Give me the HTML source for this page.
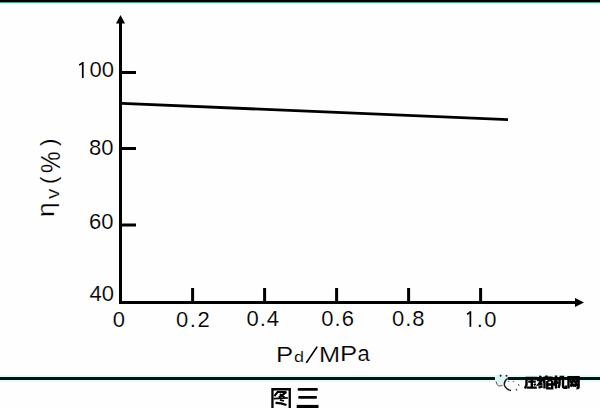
<!DOCTYPE html>
<html><head><meta charset="utf-8">
<style>
html,body{margin:0;padding:0;}
body{width:600px;height:408px;overflow:hidden;background:#fefefe;position:relative;font-family:"Liberation Sans",sans-serif;color:#000;}
.t{position:absolute;white-space:nowrap;line-height:1;-webkit-text-stroke:0.15px #fefefe;}
svg{position:absolute;left:0;top:0;}
</style></head><body>
<svg width="600" height="408" viewBox="0 0 600 408">
  <!-- top border -->
  <rect x="0" y="0" width="600" height="2" fill="#000"/>
  <rect x="0" y="2" width="600" height="1" fill="#5c9c98"/>
  <rect x="0" y="3" width="600" height="1" fill="#b8fff8"/>
  <rect x="0" y="4" width="600" height="1" fill="#e8fffa"/>
  <!-- y axis -->
  <rect x="119" y="22" width="3" height="282" fill="#000"/>
  <polygon points="120.5,15 116,23.5 125,23.5" fill="#000"/>
  <!-- x axis -->
  <rect x="119" y="301" width="458" height="3" fill="#000"/>
  <polygon points="584,302.5 575,298 575,307" fill="#000"/>
  <!-- y ticks -->
  <rect x="122" y="71" width="14" height="3" fill="#000"/>
  <rect x="122" y="147" width="14" height="3" fill="#000"/>
  <rect x="122" y="223.5" width="14" height="3" fill="#000"/>
  <!-- x ticks -->
  <rect x="191.1" y="288" width="3" height="13" fill="#000"/>
  <rect x="263.1" y="288" width="3" height="13" fill="#000"/>
  <rect x="335.1" y="288" width="3" height="13" fill="#000"/>
  <rect x="407.1" y="288" width="3" height="13" fill="#000"/>
  <rect x="479.1" y="288" width="3" height="13" fill="#000"/>
  <!-- data line -->
  <line x1="122" y1="103.4" x2="508" y2="119.6" stroke="#000" stroke-width="2.8"/>
  <!-- bottom rule -->
  <rect x="0" y="375" width="600" height="2" fill="#e4fcfa"/>
  <rect x="0" y="380" width="600" height="2" fill="#e4fcfa"/>
  <rect x="0" y="377" width="495" height="3" fill="#061414"/>
  <rect x="507.8" y="377" width="92.2" height="3" fill="#061414"/>
  <!-- digit 1 glyphs -->
  <rect x="81.9" y="62" width="1.75" height="16" fill="#000"/>
  <polygon points="82.2,62.2 79,64.3 79.2,65.8 82.2,64.6" fill="#000"/>
  <rect x="469.5" y="311.2" width="1.75" height="15.7" fill="#000"/>
  <polygon points="469.8,311.4 466.8,313.5 467,315 469.8,313.8" fill="#000"/>
  <!-- 图三 -->
  <g fill="none" stroke="#000" stroke-linecap="butt">
    <path d="M272.45,409 V389.25 H289.75 V409" stroke-width="2.3"/>
    <path d="M274.4,396.2 L277.6,392 H286.4" stroke-width="2.1"/>
    <path d="M286.2,392.2 L278.8,397.6" stroke-width="2.2"/>
    <path d="M279.8,394.2 L284.5,397.4" stroke-width="2"/>
    <path d="M273.6,398.6 L279,398.4 L287.8,397.9" stroke-width="1.9"/>
    <path d="M280,399.9 L284,401" stroke-width="1.8"/>
    <path d="M275.5,402.8 Q281,402.8 286.5,405" stroke-width="2.2"/>
  </g>
  <rect x="297.6" y="388.1" width="20.3" height="2.7" rx="1.2" fill="#000"/>
  <rect x="298.2" y="396.1" width="18.8" height="2.6" rx="1.2" fill="#000"/>
  <rect x="296.7" y="404.9" width="21.8" height="3.5" fill="#000"/>
  <!-- watermark icon -->
  <ellipse cx="501" cy="379.5" rx="6" ry="5.5" fill="#dcf4f4"/>
  <circle cx="500.6" cy="375.8" r="1" fill="#222"/>
  <circle cx="506.5" cy="375.8" r="1" fill="#222"/>
  <path d="M496,381.5 Q496.5,384.5 498.5,386 L502.5,385.6" fill="none" stroke="#555" stroke-width="1"/>
  <ellipse cx="512" cy="384.5" rx="7" ry="6" fill="#fbfbfb"/>
  <rect x="507.8" y="377" width="18" height="3" fill="#061414"/>
  <path d="M507.5,378.5 Q503.5,381.5 504.5,385.5 Q506,389.5 511,390.5" fill="none" stroke="#1a1a1a" stroke-width="1.4"/>
  <circle cx="508.5" cy="381.5" r="0.8" fill="#6a8aaa"/>
  <circle cx="513.5" cy="381.5" r="0.8" fill="#6a8aaa"/>
  <path d="M516,389 L517,390.5" stroke="#333" stroke-width="1.2"/>
  <path d="M518.5,384 L519,386" stroke="#555" stroke-width="1"/>
  <!-- watermark text 压缩机网 -->
  <g fill="none" stroke="#000" stroke-width="2.4" stroke-linecap="butt">
    <!-- 压 -->
    <path d="M525.5,378 H537.3 M526.5,378 V385 L525,388.5"/>
    <path d="M528.2,381.6 H535.8 M531.8,378.8 V387.4 M527,387.6 H536.8"/>
    <path d="M534.2,383.8 L535.4,385.4"/>
    <!-- 缩 -->
    <path d="M540.8,375.8 L538.5,380 L541.5,380.5 L538.6,384.5 L542.5,384"/>
    <path d="M538.5,387.6 L542.6,386.4"/>
    <path d="M546.5,375.6 V377.2 M543.5,377.8 H552.5 M543.8,378 V381"/>
    <path d="M544.6,380 L543.5,383 M544.5,381.5 V388.4"/>
    <path d="M547.3,380.4 H552.5 M547.3,381 V388.4 H552.2 V381 M547.3,384.5 H552.2"/>
    <!-- 机 -->
    <path d="M553.3,379.2 H558.5 M556,375.6 V388.6 M555.8,380.5 L553.5,385.5 M556.5,381.5 L558.5,383.5"/>
    <path d="M559.6,377 V384 L558.6,388 M559.6,377 H563 V386.5 Q563,388 566,387.8 V385.5"/>
    <!-- 网 -->
    <path d="M568.5,388.6 V377.2 H578.6 V387 Q578.6,388.4 576.5,388.2"/>
    <path d="M570,380.2 L574,386.5 M573.5,379.5 L570.5,386.8"/>
    <path d="M574,380.2 L578,386.5 M577.5,379.5 L574.5,386.8"/>
  </g>
  <line x1="306.3" y1="362.9" x2="317.2" y2="346.6" stroke="#000" stroke-width="1.7"/>
</svg>
<div class="t" id="y100" style="left:89.50px;top:59.10px;font-size:22px;">00</div>
<div class="t" id="y80" style="left:89.00px;top:136.60px;font-size:22px;">80</div>
<div class="t" id="y60" style="left:89.10px;top:211.00px;font-size:22px;">60</div>
<div class="t" id="y40" style="left:89.50px;top:283.20px;font-size:22px;">40</div>
<div class="t" id="x0" style="left:112.70px;top:308.80px;font-size:22px;">0</div>
<div class="t" id="x02" style="left:176.10px;top:308.80px;font-size:22px;letter-spacing:1.50px;">0.2</div>
<div class="t" id="x04" style="left:246.50px;top:308.40px;font-size:22px;letter-spacing:1.00px;">0.4</div>
<div class="t" id="x06" style="left:321.30px;top:308.40px;font-size:22px;letter-spacing:1.00px;">0.6</div>
<div class="t" id="x08" style="left:391.90px;top:308.40px;font-size:22px;letter-spacing:1.00px;">0.8</div>
<div class="t" id="x10" style="left:476.70px;top:308.70px;font-size:22px;letter-spacing:1.50px;">.0</div>
<div class="t" id="xP" style="left:276.00px;top:344.00px;font-size:22px;transform:scale(1.17,1);transform-origin:0 0;">P</div>
<div class="t" id="xd" style="left:294.20px;top:348.70px;font-size:15px;transform:scale(1.2,1);transform-origin:0 0;">d</div>
<div class="t" id="xM" style="left:318.70px;top:343.60px;font-size:22px;transform:scale(1.15,1);transform-origin:0 0;">M</div>
<div class="t" id="xP2" style="left:340.30px;top:343.40px;font-size:22px;transform:scale(1.17,1);transform-origin:0 0;">P</div>
<div class="t" id="xa" style="left:357.60px;top:343.40px;font-size:22px;">a</div>
<div class="t" id="yeta" style="left:34.60px;top:217.20px;font-size:22px;transform:rotate(-90deg) scale(1.2,1.06);transform-origin:0 0;">η</div>
<div class="t" id="yv" style="left:43.60px;top:198.50px;font-size:18px;transform:rotate(-90deg) scale(1.15,1);transform-origin:0 0;">v</div>
<div class="t" id="ylp" style="left:37.80px;top:184.10px;font-size:22px;transform:rotate(-90deg);transform-origin:0 0;">(</div>
<div class="t" id="ypc" style="left:36.60px;top:172.60px;font-size:22px;transform:rotate(-90deg) scale(1.1,1.28);transform-origin:0 0;">%</div>
<div class="t" id="yrp" style="left:38.00px;top:146.20px;font-size:22px;transform:rotate(-90deg);transform-origin:0 0;">)</div>
</body></html>
